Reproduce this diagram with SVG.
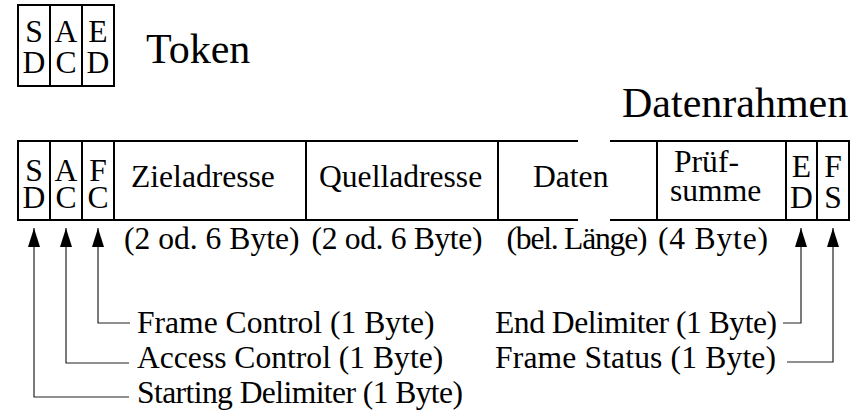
<svg xmlns="http://www.w3.org/2000/svg" width="865" height="415" viewBox="0 0 865 415">
<style>
text{font-family:'Liberation Serif','Times New Roman',serif;fill:#000}
.f{font-size:31.6px}
.big{font-size:42px}
.m{text-anchor:middle}
.e{text-anchor:end}
.box{fill:none;stroke:#000;stroke-width:2}
.con{fill:none;stroke:#222;stroke-width:1.2}
</style>
<defs>
<marker id="ah" markerUnits="userSpaceOnUse" markerWidth="19" markerHeight="12" refX="19" refY="6" orient="auto-start-reverse" viewBox="0 0 19 12">
<path d="M0,0 L19,6 L0,12 Z" fill="#000"/>
</marker>
</defs>
<rect width="865" height="415" fill="#fff"/>
<g id="token">
<rect class="box" x="18" y="5" width="96" height="81"/>
<line class="box" x1="50" y1="5" x2="50" y2="86"/>
<line class="box" x1="82" y1="5" x2="82" y2="86"/>
<text class="f m"><tspan x="34" y="42">S</tspan><tspan x="34" y="73">D</tspan></text>
<text class="f m"><tspan x="66" y="42">A</tspan><tspan x="66" y="73">C</tspan></text>
<text class="f m"><tspan x="98" y="42">E</tspan><tspan x="98" y="73">D</tspan></text>
<text class="big" x="146" y="63">Token</text>
</g>
<g id="frame-title"><text class="big" x="622" y="117">Datenrahmen</text></g>
<g id="frame">
<path class="box" d="M578,141 H18 V220 H578 M610,141 H849 V220 H610"/>
<g id="sd"><line class="box" x1="50" y1="141" x2="50" y2="220"/><text class="f m"><tspan x="34" y="181">S</tspan><tspan x="34" y="208">D</tspan></text></g>
<g id="ac"><line class="box" x1="82" y1="141" x2="82" y2="220"/><text class="f m"><tspan x="66" y="181">A</tspan><tspan x="66" y="208">C</tspan></text></g>
<g id="fc"><line class="box" x1="114" y1="141" x2="114" y2="220"/><text class="f m"><tspan x="98" y="181">F</tspan><tspan x="98" y="208">C</tspan></text></g>
<g id="ziel"><line class="box" x1="306" y1="141" x2="306" y2="220"/><text class="f" x="131" y="187">Zieladresse</text></g>
<g id="quell"><line class="box" x1="498" y1="141" x2="498" y2="220"/><text class="f" x="319" y="187">Quelladresse</text></g>
<g id="daten"><text class="f" x="533" y="187">Daten</text></g>
<g id="pruef"><line class="box" x1="657" y1="141" x2="657" y2="220"/><text class="f"><tspan x="674" y="172">Prüf-</tspan><tspan x="670" y="201">summe</tspan></text></g>
<g id="ed"><line class="box" x1="786" y1="141" x2="786" y2="220"/><text class="f m"><tspan x="801.5" y="177">E</tspan><tspan x="801.5" y="208">D</tspan></text></g>
<g id="fs"><line class="box" x1="817" y1="141" x2="817" y2="220"/><text class="f m"><tspan x="833" y="177">F</tspan><tspan x="833" y="208">S</tspan></text></g>
</g>
<g id="sizes">
<text class="f" x="124" y="249">(2 od. 6 Byte)</text>
<text class="f" x="311.5" y="249" textLength="171" lengthAdjust="spacing">(2 od. 6 Byte)</text>
<text class="f" x="506.5" y="249" textLength="141" lengthAdjust="spacing">(bel. Länge)</text>
<text class="f" x="658" y="249" textLength="110" lengthAdjust="spacing">(4 Byte)</text>
</g>
<g id="labels">
<text class="f" x="137" y="333">Frame Control (1 Byte)</text>
<text class="f" x="137" y="368">Access Control (1 Byte)</text>
<text class="f" x="137" y="403" textLength="326" lengthAdjust="spacing">Starting Delimiter (1 Byte)</text>
<text class="f" x="495" y="333" textLength="282" lengthAdjust="spacing">End Delimiter (1 Byte)</text>
<text class="f" x="495" y="368" textLength="281" lengthAdjust="spacing">Frame Status (1 Byte)</text>
</g>
<g id="connectors">
<path class="con" marker-start="url(#ah)" d="M34,228 V397 H129"/>
<path class="con" marker-start="url(#ah)" d="M66,228 V363 H129"/>
<path class="con" marker-start="url(#ah)" d="M98,228 V323 H130"/>
<path class="con" marker-start="url(#ah)" d="M801,228 V323 H783"/>
<path class="con" marker-start="url(#ah)" d="M833,228 V362 H787"/>
</g>
</svg>
